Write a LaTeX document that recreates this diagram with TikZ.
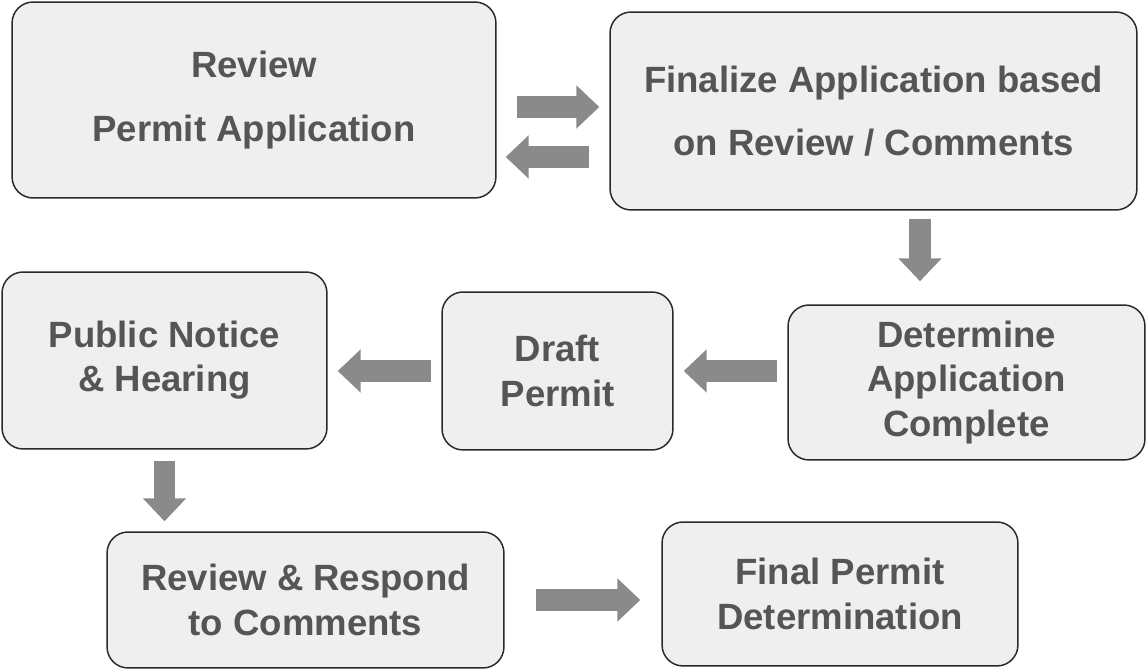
\documentclass[tikz,border=0pt]{standalone}
\usepackage{fontspec}
\setmainfont{Liberation Sans}
\usepackage{xcolor}
\usepackage{tikz}
\usetikzlibrary{arrows.meta,positioning,calc}
\definecolor{BoxFill}{HTML}{EFEFEF}
\definecolor{BoxLine}{HTML}{2A2A2A}
\definecolor{InkGray}{HTML}{555555}
\definecolor{ArrowGray}{HTML}{8A8A8A}
\tikzset{
  stepbox/.style={rounded corners=12pt, draw=BoxLine, fill=BoxFill, line width=0.85pt, align=center, inner sep=4pt, text=InkGray, font=\bfseries\fontsize{20.8}{25.2}\selectfont},
  blockarrow/.style={-{Triangle[length=0.46cm,width=0.84cm]}, line width=0.44cm, draw=ArrowGray, fill=ArrowGray},
}

\begin{document}
\begin{tikzpicture}[x=0.02cm,y=-0.02cm]
\path[use as bounding box] (0,0) rectangle (1147,671);

\node[stepbox,minimum width=9.68cm,minimum height=3.92cm] (review) at (254,100) {Review\\[11pt]Permit Application};
\node[stepbox,minimum width=10.54cm,minimum height=3.96cm] (finalize) at (873.5,111) {Finalize Application based\\[11pt]on Review / Comments};
\node[stepbox,minimum width=7.14cm,minimum height=3.1cm] (complete) at (966.5,382.5) {Determine\\Application\\Complete};
\node[stepbox,minimum width=4.62cm,minimum height=3.16cm] (draft) at (557.5,371) {Draft\\Permit};
\node[stepbox,minimum width=6.5cm,minimum height=3.54cm] (notice) at (164.5,360.5) {Public Notice\\\& Hearing};
\node[stepbox,minimum width=7.94cm,minimum height=2.72cm] (respond) at (305.5,600) {Review \& Respond\\to Comments};
\node[stepbox,minimum width=7.12cm,minimum height=2.88cm] (final) at (840,594) {Final Permit\\Determination};

% block arrows between the steps
\draw[blockarrow,shorten <=0.4cm,shorten >=0.2cm] ([yshift=-0.14cm]review.east) -- ([yshift=-0.14cm]review.east -| finalize.west);
\draw[blockarrow,shorten <=0.4cm,shorten >=0.18cm] ([yshift=-1.14cm]review.east -| finalize.west) -- ([yshift=-1.14cm]review.east);
\draw[blockarrow,shorten <=0.16cm,shorten >=0.46cm] ([xshift=0.93cm]finalize.south) -- ([xshift=0.93cm]finalize.south |- complete.north);
\draw[blockarrow,shorten <=0.2cm,shorten >=0.2cm] (complete.west |- draft.east) -- (draft.east);
\draw[blockarrow,shorten <=0.2cm,shorten >=0.2cm] (draft.west) -- (notice.east |- draft.west);
\draw[blockarrow,shorten <=0.22cm,shorten >=0.2cm] (notice.south) -- (notice.south |- respond.north);
\draw[blockarrow,shorten <=0.62cm,shorten >=0.42cm] (respond.east) -- (respond.east -| final.west);
\end{tikzpicture}
\end{document}
